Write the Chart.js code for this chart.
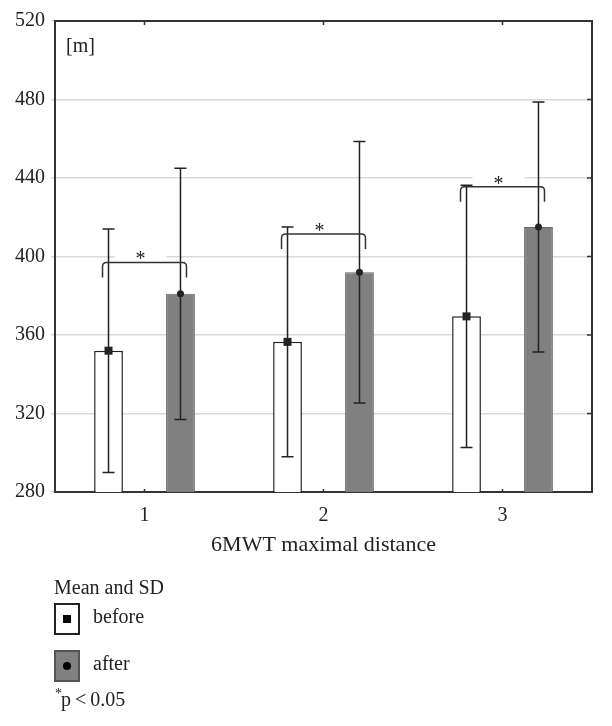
<!DOCTYPE html>
<html>
<head>
<meta charset="utf-8">
<script src="https://cdn.jsdelivr.net/npm/chart.js@4.4.1/dist/chart.umd.min.js"></script>
<style>
  html, body { margin: 0; padding: 0; background: #fff; }
  #wrap { width: 612px; height: 726px; }
</style>
</head>
<body>
<div id="wrap"><canvas id="chart" width="612" height="726"></canvas></div>
<script>
// values (metres)
const categories = ["1", "2", "3"];
const beforeMean = [352, 356.5, 369.5];
const beforeSD = [62, 58.5, 66.8];
const afterMean = [381, 392, 415];
const afterSD = [64, 66.6, 63.7];
const bracketLevel = [397, 411.5, 435.5];
const yMin = 280, yMax = 520, yStep = 40;

const SERIF = '"Liberation Serif", "DejaVu Serif", serif';
const ink = "#222";

const decorations = {
  id: "decorations",
  beforeDatasetsDraw(chart) {
    // white patch behind each star, it breaks the gridline there
    const { ctx, scales: { x, y } } = chart;
    ctx.save();
    ctx.fillStyle = "#fff";
    categories.forEach((c, i) => {
      const cx = x.getPixelForValue(i) - 4;
      const by = y.getPixelForValue(bracketLevel[i]);
      ctx.fillRect(cx - 26, by - 15, 52, 13);
    });
    ctx.restore();
  },
  afterDatasetsDraw(chart) {
    const { ctx, chartArea: a, scales: { x, y } } = chart;
    const metaB = chart.getDatasetMeta(0);
    const metaA = chart.getDatasetMeta(1);
    ctx.save();
    ctx.strokeStyle = ink;
    ctx.fillStyle = ink;
    ctx.lineWidth = 1.5;

    // error bars + mean markers
    const sets = [[metaB, beforeMean, beforeSD, "square"], [metaA, afterMean, afterSD, "circle"]];
    sets.forEach(([meta, mean, sd, shape]) => {
      meta.data.forEach((bar, i) => {
        const top = y.getPixelForValue(mean[i] + sd[i]);
        const bot = y.getPixelForValue(mean[i] - sd[i]);
        ctx.beginPath();
        ctx.moveTo(bar.x, top); ctx.lineTo(bar.x, bot);
        ctx.moveTo(bar.x - 6, top); ctx.lineTo(bar.x + 6, top);
        ctx.moveTo(bar.x - 6, bot); ctx.lineTo(bar.x + 6, bot);
        ctx.stroke();
        const my = y.getPixelForValue(mean[i]);
        if (shape === "square") {
          ctx.fillRect(bar.x - 4, my - 4, 8, 8);
        } else {
          ctx.beginPath();
          ctx.arc(bar.x, my, 3.5, 0, Math.PI * 2);
          ctx.fill();
        }
      });
    });

    // significance brackets
    ctx.strokeStyle = "#333";
    categories.forEach((c, i) => {
      const x1 = metaB.data[i].x - 6, x2 = metaA.data[i].x + 6;
      const by = y.getPixelForValue(bracketLevel[i]);
      const r = 4, leg = 15;
      ctx.beginPath();
      ctx.moveTo(x1, by + leg);
      ctx.lineTo(x1, by + r);
      ctx.quadraticCurveTo(x1, by, x1 + r, by);
      ctx.lineTo(x2 - r, by);
      ctx.quadraticCurveTo(x2, by, x2, by + r);
      ctx.lineTo(x2, by + leg);
      ctx.stroke();
      ctx.font = "20px " + SERIF;
      ctx.textAlign = "center";
      ctx.textBaseline = "alphabetic";
      ctx.fillText("*", x.getPixelForValue(i) - 4, by + 3);
    });

    // frame: top and right sides, with inward ticks
    ctx.strokeStyle = "#333";
    ctx.lineWidth = 2;
    ctx.beginPath();
    ctx.moveTo(a.left, a.top); ctx.lineTo(a.right, a.top); ctx.lineTo(a.right, a.bottom);
    ctx.stroke();
    ctx.lineWidth = 1.5;
    ctx.beginPath();
    for (let v = yMin + yStep; v < yMax; v += yStep) {
      const py = y.getPixelForValue(v);
      ctx.moveTo(a.right - 5, py); ctx.lineTo(a.right, py);
    }
    categories.forEach((c, i) => {
      const px = x.getPixelForValue(i);
      ctx.moveTo(px, a.top); ctx.lineTo(px, a.top + 4);
      ctx.moveTo(px, a.bottom); ctx.lineTo(px, a.bottom - 3);
    });
    ctx.stroke();

    // unit label
    ctx.fillStyle = ink;
    ctx.font = "20px " + SERIF;
    ctx.textAlign = "left";
    ctx.textBaseline = "middle";
    ctx.fillText("[m]", 66, 47);
    ctx.restore();
  },
  afterDraw(chart) {
    const { ctx } = chart;
    ctx.save();
    ctx.fillStyle = ink;
    ctx.font = "20px " + SERIF;
    ctx.textAlign = "left";
    ctx.textBaseline = "middle";
    ctx.fillText("Mean and SD", 54, 589);

    // before key
    ctx.fillStyle = "#fff";
    ctx.fillRect(55, 604, 24, 30);
    ctx.strokeStyle = "#222";
    ctx.lineWidth = 2;
    ctx.strokeRect(55, 604, 24, 30);
    ctx.fillStyle = "#000";
    ctx.fillRect(63, 615, 8, 8);
    ctx.fillStyle = ink;
    ctx.fillText("before", 93, 618);

    // after key
    ctx.fillStyle = "#808080";
    ctx.fillRect(55, 651, 24, 30);
    ctx.strokeStyle = "#555";
    ctx.strokeRect(55, 651, 24, 30);
    ctx.fillStyle = "#000";
    ctx.beginPath();
    ctx.arc(67, 666, 4, 0, Math.PI * 2);
    ctx.fill();
    ctx.fillStyle = ink;
    ctx.fillText("after", 93, 665);

    // significance note
    ctx.font = "14px " + SERIF;
    ctx.fillText("*", 55, 694);
    ctx.font = "20px " + SERIF;
    ctx.fillText("p\u2009<\u20090.05", 61, 701);
    ctx.restore();
  }
};

const ctx = document.getElementById("chart").getContext("2d");
const chart = new Chart(ctx, {
  type: "bar",
  data: {
    labels: categories,
    datasets: [
      {
        label: "before",
        data: beforeMean,
        backgroundColor: "#ffffff",
        borderColor: "#222",
        borderWidth: 1.5,
        categoryPercentage: 0.804,
        barPercentage: 0.4,
      },
      {
        label: "after",
        data: afterMean,
        backgroundColor: "#808080",
        borderColor: "#666",
        borderWidth: 1,
        categoryPercentage: 0.804,
        barPercentage: 0.4,
      },
    ],
  },
  options: {
    responsive: false,
    animation: false,
    layout: { padding: { top: 21, right: 20, bottom: 164, left: 0 } },
    plugins: {
      legend: { display: false },
      tooltip: { enabled: false },
    },
    scales: {
      x: {
        grid: { display: false },
        border: { color: "#333", width: 2 },
        ticks: { color: ink, font: { family: SERIF, size: 20 }, padding: 4 },
        title: {
          display: true,
          text: "6MWT maximal distance",
          color: ink,
          font: { family: SERIF, size: 22 },
          padding: { top: 0, bottom: 4 },
        },
        afterFit(scale) { scale.height = 70; },
      },
      y: {
        min: yMin,
        max: yMax,
        ticks: { stepSize: yStep, color: ink, font: { family: SERIF, size: 20 }, padding: 6 },
        grid: { color: "#d9d9d9", lineWidth: 1.5, tickLength: 4, drawTicks: true },
        border: { color: "#333", width: 2 },
        afterFit(scale) { scale.width = 55; },
      },
    },
  },
  plugins: [decorations],
});
</script>
</body>
</html>
